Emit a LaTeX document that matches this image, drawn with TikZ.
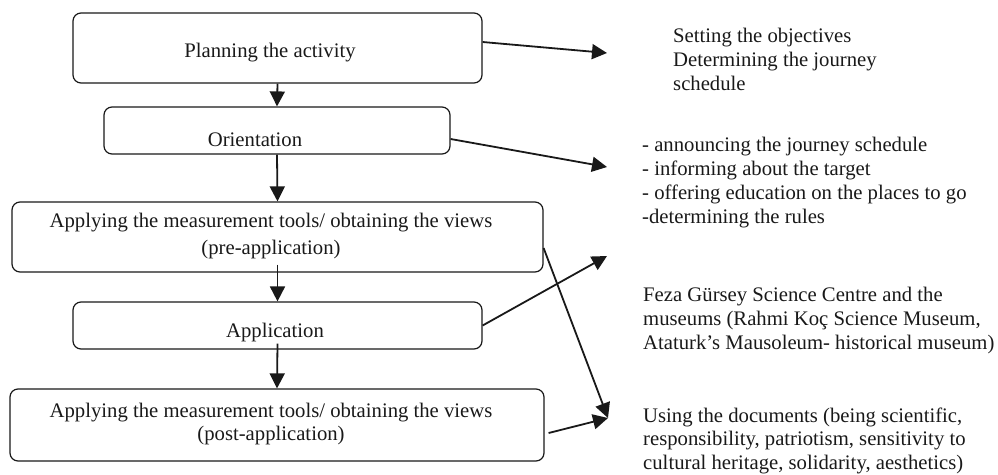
\documentclass[tikz,border=0pt]{standalone}
\usepackage{fontspec}
\setmainfont{Liberation Serif}
\usetikzlibrary{arrows.meta}
\begin{document}
\begin{tikzpicture}[x=1pt,y=-1pt,
  stagebox/.style={draw=black!90, line width=1.2pt, rounded corners=8pt, inner sep=0pt},
  lbl/.style={inner sep=0pt, font=\fontsize{20.7}{24}\selectfont, text=black!90},
  flow/.style={line width=1.8pt, draw=black!90, -{Triangle[length=15pt,width=15pt]}}]
\useasboundingbox (0,0) rectangle (998,474);
% boxes
\node[stagebox, minimum width=409pt, minimum height=70pt] (b1) at (277.5,48) {};
\node[stagebox, minimum width=346pt, minimum height=47pt] (b2) at (277,130.5) {};
\node[stagebox, minimum width=531pt, minimum height=70pt] (b3) at (277.5,237) {};
\node[stagebox, minimum width=409pt, minimum height=47pt] (b4) at (277.5,325.5) {};
\node[stagebox, minimum width=534pt, minimum height=72pt] (b5) at (277,425) {};
% box texts
\node[lbl] (t1) at (270,53) {Planning the activity};
\node[lbl] (t2) at (255,140) {Orientation};
\node[lbl, align=center, font=\fontsize{20.7}{27}\selectfont] (t3) at (271,236) {Applying the measurement tools/ obtaining the views\\(pre-application)};
\node[lbl] (t4) at (275,333) {Application};
\node[lbl, align=center, font=\fontsize{20.7}{23}\selectfont] (t5) at (271,424.5) {Applying the measurement tools/ obtaining the views\\(post-application)};
% right texts
\node[lbl, align=left, anchor=west] (r1) at (673,59) {Setting the objectives\\Determining the journey\\schedule};
\node[lbl, align=left, anchor=west] (r2) at (642,182.5) {- announcing the journey schedule\\- informing about the target\\- offering education on the places to go\\-determining the rules};
\node[lbl, align=left, anchor=west] (r3) at (643,321) {Feza Gürsey Science Centre and the\\museums (Rahmi Koç Science Museum,\\Ataturk’s Mausoleum- historical museum)};
\node[lbl, align=left, anchor=west, font=\fontsize{20.7}{23.5}\selectfont] (r4) at (643,440.5) {Using the documents (being scientific,\\responsibility, patriotism, sensitivity to\\cultural heritage, solidarity, aesthetics)};
% arrow tips
\coordinate (a1) at (607,53);
\coordinate (a2) at (607,167);
\coordinate (a3) at (607,256);
\coordinate (a4) at (608,418);
% vertical flow
\draw[flow] (b1.south) -- (b2.north);
\draw[flow] (b2.south) -- (b3.north);
\draw[flow] ([yshift=8pt]b3.south) -- (b4.north);
\draw[flow] ([yshift=6pt]b4.south) -- (b5.north);
% side arrows
\draw[flow] ([yshift=6pt]b1.east) -- (a1);
\draw[flow] ([yshift=-8.5pt]b2.east) -- (a2);
\draw[flow] (b4.east) -- (a3);
\draw[flow] ([yshift=-11pt]b3.east) -- (a4);
\draw[flow] ([xshift=4pt,yshift=-8pt]b5.east) -- (a4);
\end{tikzpicture}
\end{document}
